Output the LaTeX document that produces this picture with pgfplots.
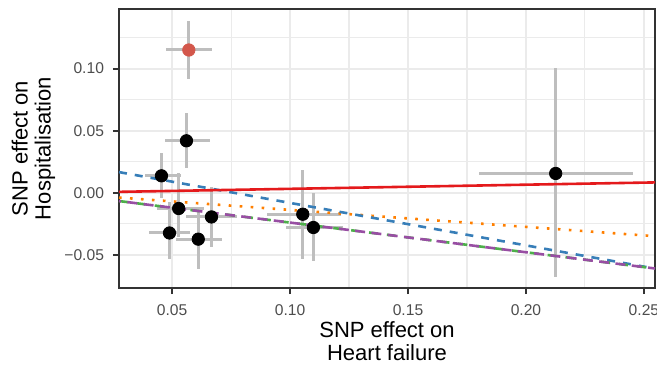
\documentclass[border=0pt]{standalone}
\usepackage{pgfplots}
\pgfplotsset{compat=1.18}
\usepackage{pgfplotstable}
\usepackage{fontspec}
\setmainfont{Liberation Sans}
\definecolor{border}{HTML}{333333}
\definecolor{tickc}{HTML}{4D4D4D}
\definecolor{gridc}{HTML}{EBEBEB}
\definecolor{errc}{HTML}{BEBEBE}
\definecolor{s1red}{HTML}{E41A1C}
\definecolor{s1blue}{HTML}{377EB8}
\definecolor{s1green}{HTML}{4DAF4A}
\definecolor{s1purple}{HTML}{984EA3}
\definecolor{s1orange}{HTML}{FF7F00}
\definecolor{ptred}{HTML}{D3574B}

\pgfplotstableread{
x y exm exp eym eyp
0.0561 0.0419 0.0092 0.0099 0.0222 0.0221
0.0455 0.0137 0.0069 0.0084 0.0182 0.0181
0.0528 -0.0126 0.0093 0.0106 0.0229 0.0282
0.0489 -0.0323 0.0087 0.0086 0.0206 0.0250
0.0611 -0.0373 0.0094 0.0102 0.0242 0.0233
0.0667 -0.0194 0.0109 0.0109 0.0241 0.0242
0.1054 -0.0172 0.0151 0.0161 0.0357 0.0355
0.1099 -0.0279 0.0117 0.0124 0.0269 0.0274
0.2126 0.0156 0.0325 0.0329 0.0833 0.0847
}\snps
\pgfplotstableread{
x y exm exp eym eyp
0.0571 0.115 0.0095 0.0098 0.0235 0.0235
}\outlier

\begin{document}
\begin{tikzpicture}
\begin{axis}[
  scale only axis, width=268pt, height=139.5pt,
  at={(0,0)}, anchor=south west,
  xmin=0.0275, xmax=0.2547, ymin=-0.0766, ymax=0.148,
  axis line style={draw=border, line width=1pt},
  xtick={0.05,0.1,0.15,0.2,0.25}, xticklabels={0.05,0.10,0.15,0.20,0.25},
  ytick={-0.05,0,0.05,0.1}, yticklabels={−0.05,0.00,0.05,0.10},
  minor xtick={0.075,0.125,0.175,0.225},
  minor ytick={-0.025,0.025,0.075,0.125},
  grid=both,
  major grid style={draw=gridc, line width=1pt},
  minor grid style={draw=gridc, line width=0.55pt},
  tick align=outside, tick pos=left,
  major tick length=3pt, minor tick length=0pt,
  major tick style={draw=border, line width=1pt},
  ticklabel style={font=\fontsize{7.8}{9}\selectfont, text=tickc},
  xticklabel style={yshift=-2pt},
  yticklabel style={xshift=-1pt},
  xlabel={SNP effect on\\Heart failure},
  ylabel={SNP effect on\\Hospitalisation},
  every axis x label/.style={at={(axis description cs:0.5,-0.19)}, anchor=center, align=center, font=\fontsize{11}{11.5}\selectfont},
  every axis y label/.style={at={(axis description cs:-0.1595,0.5)}, anchor=center, rotate=90, align=center, font=\fontsize{11}{11.5}\selectfont},
  clip=true,
]
% error bars
\addplot[draw=none, mark=none, forget plot,
  error bars/.cd, x dir=both, x explicit, y dir=both, y explicit,
  error mark=none, error bar style={draw=errc, line width=1.5pt}]
  table[x=x, y=y, x error plus=exp, x error minus=exm, y error plus=eyp, y error minus=eym] {\outlier};
\addplot[draw=none, mark=none, forget plot,
  error bars/.cd, x dir=both, x explicit, y dir=both, y explicit,
  error mark=none, error bar style={draw=errc, line width=1.5pt}]
  table[x=x, y=y, x error plus=exp, x error minus=exm, y error plus=eyp, y error minus=eym] {\snps};
% points
\addplot[only marks, mark=*, mark size=3.1pt, mark options={fill=ptred, draw=ptred}] table[x=x,y=y] {\outlier};
\addplot[only marks, mark=*, mark size=3.1pt, mark options={fill=black, draw=black}] table[x=x,y=y] {\snps};
% fitted lines
\addplot[s1orange, line width=1.3pt, dash pattern=on 1.3pt off 4.2pt] coordinates {(0.0275,-0.0038) (0.2547,-0.0349)};
\addplot[s1blue, line width=1.3pt, dash pattern=on 4pt off 4pt] coordinates {(0.0275,0.0167) (0.2547,-0.0610)};
\addplot[s1red, line width=1.3pt] coordinates {(0.0275,0.0008) (0.2547,0.0084)};
\addplot[s1green, line width=1.3pt, dash pattern=on 4.5pt off 4.5pt] coordinates {(0.0275,-0.0066) (0.2547,-0.0609)};
\addplot[s1purple, line width=1.3pt, dash pattern=on 5pt off 3.2pt, dash phase=4pt] coordinates {(0.0275,-0.0066) (0.2547,-0.0609)};
\end{axis}
\pgfresetboundingbox
\path (-59.5pt,-38pt) rectangle (269pt,144pt);
\end{tikzpicture}
\end{document}
